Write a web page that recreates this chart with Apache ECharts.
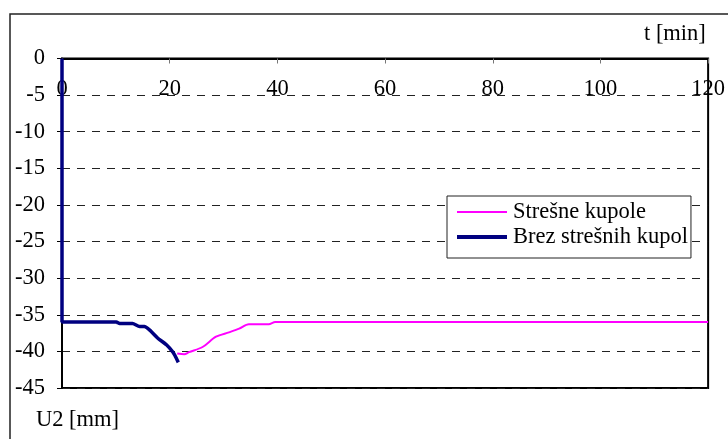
<!DOCTYPE html>
<html>
<head>
<meta charset="utf-8">
<script src="https://cdn.jsdelivr.net/npm/echarts@6/dist/echarts.min.js"></script>
<style>
  html, body { margin: 0; padding: 0; background: #fff; }
  #chart { width: 728px; height: 439px; }
</style>
</head>
<body>
<div id="chart"></div>
<script>
// Displacement U2 over time, with and without roof domes
const xTicks = [0, 20, 40, 60, 80, 100, 120];
const yTicks = [0, -5, -10, -15, -20, -25, -30, -35, -40, -45];

const seriesNames = ['Strešne kupole', 'Brez strešnih kupol'];

// with roof domes
const tDomes = [21.4, 22.7, 23.6, 26.1, 28.6, 31.0, 32.9, 34.7, 38.4, 39.6, 120];
const uDomes = [-40.3, -40.4, -40.1, -39.4, -38.0, -37.4, -36.9, -36.3, -36.3, -36.0, -36.0];

// without roof domes
const tNoDomes = [0, 0, 10.1, 10.7, 13.1, 14.4, 15.3, 16.3, 17.8, 19.4, 20.6, 21.0, 21.6];
const uNoDomes = [0, -36, -36, -36.2, -36.2, -36.6, -36.6, -37.1, -38.2, -39.1, -40.1, -40.6, -41.5];

const pair = (xs, ys) => xs.map((x, i) => [x, ys[i]]);

const FONT = 'Liberation Serif';
const FS = 22.5;

const chart = echarts.init(document.getElementById('chart'), null, { renderer: 'canvas' });

chart.setOption({
  animation: false,
  backgroundColor: '#fff',
  textStyle: { fontFamily: FONT, color: '#000' },
  graphic: [
    {
      type: 'rect',
      shape: { x: 10, y: 14, width: 730, height: 440 },
      style: { fill: 'none', stroke: '#222', lineWidth: 1.5 },
      silent: true,
      z: -10
    },
    {
      type: 'text',
      left: 644, top: 23,
      style: { text: 't [min]', font: FS + 'px ' + FONT, fill: '#000' }
    },
    {
      type: 'text',
      left: 36, top: 409,
      style: { text: 'U2 [mm]', font: FS + 'px ' + FONT, fill: '#000' }
    }
  ],
  grid: {
    left: 62, top: 58.5, right: 16, bottom: 51,
    show: true, borderColor: '#000', borderWidth: 2, backgroundColor: 'transparent'
  },
  legend: {
    data: [
      { name: seriesNames[0], icon: 'path://M0,0H50V2H0Z' },
      { name: seriesNames[1], icon: 'path://M0,0H50V4H0Z' }
    ],
    orient: 'vertical',
    left: 447, top: 196,
    padding: [4, 3, 9, 10],
    itemGap: 1,
    itemWidth: 50,
    itemHeight: 14,
    backgroundColor: '#fff',
    borderColor: '#222',
    borderWidth: 1,
    borderRadius: 0,
    textStyle: { fontFamily: FONT, fontSize: FS, color: '#000', lineHeight: 24, padding: [0, 0, 0, 1] }
  },
  xAxis: {
    type: 'value',
    position: 'top',
    min: xTicks[0], max: xTicks[xTicks.length - 1], interval: 20,
    axisLine: { show: true, lineStyle: { color: '#000', width: 2 } },
    axisTick: { show: true, inside: true, length: 5, lineStyle: { color: '#777', width: 1 } },
    axisLabel: { inside: true, margin: 19, fontFamily: FONT, fontSize: FS, color: '#000' },
    splitLine: { show: false }
  },
  yAxis: {
    type: 'value',
    min: yTicks[yTicks.length - 1], max: yTicks[0], interval: 5,
    axisLine: { show: true, lineStyle: { color: '#000', width: 2 } },
    axisTick: { show: true, length: 5, lineStyle: { color: '#000', width: 1 } },
    axisLabel: { margin: 17, fontFamily: FONT, fontSize: FS, color: '#000' },
    splitLine: { show: true, lineStyle: { color: '#222', width: 1, type: [8, 7] } }
  },
  series: [
    {
      name: seriesNames[0],
      type: 'line',
      data: pair(tDomes, uDomes),
      showSymbol: false, symbol: 'none',
      smooth: 0.3,
      color: '#ff00ff',
      lineStyle: { color: '#ff00ff', width: 2 },
      z: 3
    },
    {
      name: seriesNames[1],
      type: 'line',
      data: pair(tNoDomes, uNoDomes),
      showSymbol: false, symbol: 'none',
      smooth: 0.2,
      color: '#000080',
      lineStyle: { color: '#000080', width: 3.5 },
      z: 4
    }
  ]
});
</script>
</body>
</html>
